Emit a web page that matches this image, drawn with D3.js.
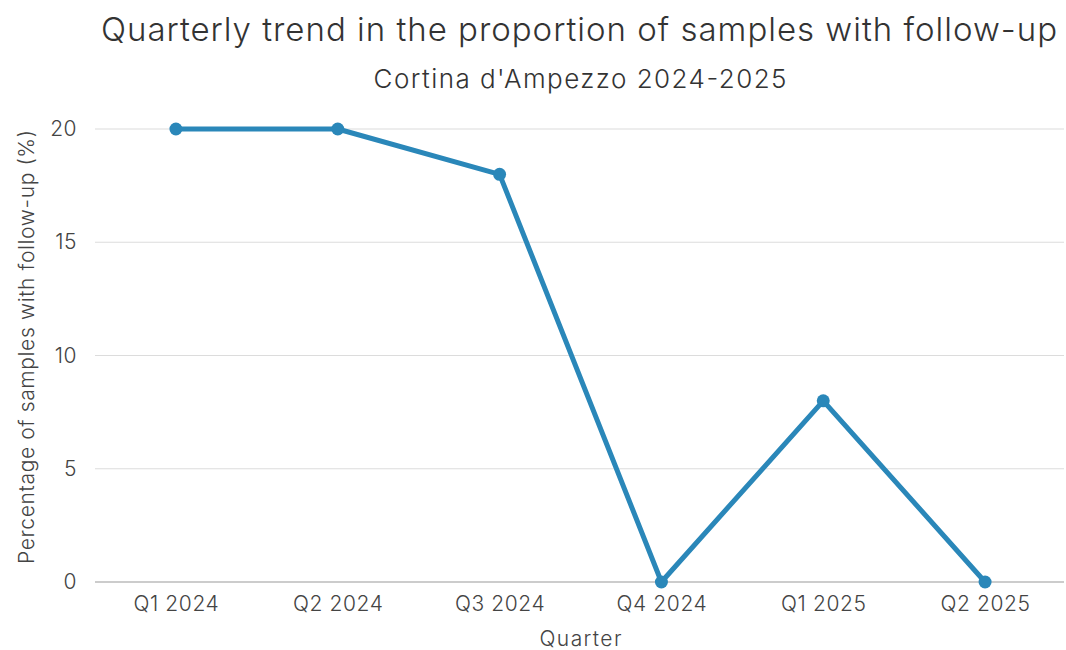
<!DOCTYPE html>
<html><head><meta charset="utf-8">
<script src="https://cdn.jsdelivr.net/npm/d3@7"></script>
<style>body{margin:0;background:#fff;} text{font-family:Inter,"Noto Sans",sans-serif;}</style>
</head><body>
<svg id="c" width="1066" height="650"></svg>
<script>
const categories = ["Q1 2024","Q2 2024","Q3 2024","Q4 2024","Q1 2025","Q2 2025"];
const values = [20, 20, 18, 0, 8, 0];
const yTicks = [0, 5, 10, 15, 20];

(function(){
const svg = d3.select("#c");
const mL = 95, mR = 1066, mT = 129, mB = 582;
const x = d3.scalePoint().domain(categories).range([mL, mR]).padding(0.5);
const y = d3.scaleLinear().domain([0, 20]).range([mB, mT]);
const font = "Inter,'Noto Sans',sans-serif";

svg.append("text").attr("x", 579).attr("y", 41).attr("text-anchor","middle")
  .attr("font-size", 33).attr("font-weight", 300).attr("fill","#333")
  .attr("textLength", 956).attr("lengthAdjust","spacing")
  .text("Quarterly trend in the proportion of samples with follow-up");
svg.append("text").attr("x", 580).attr("y", 88).attr("text-anchor","middle")
  .attr("font-size", 26).attr("font-weight", 300).attr("fill","#333")
  .attr("textLength", 413).attr("lengthAdjust","spacing")
  .text("Cortina d'Ampezzo 2024-2025");

svg.append("g").selectAll("line").data(yTicks.filter(d=>d>0)).join("line")
  .attr("x1", mL).attr("x2", mR-2).attr("y1", d=>y(d)).attr("y2", d=>y(d))
  .attr("stroke","#dcdcdc").attr("stroke-width",1.2);

const ya = svg.append("g").attr("transform",`translate(${mL},0)`)
  .call(d3.axisLeft(y).tickValues(yTicks).tickSize(0).tickPadding(18));
ya.select(".domain").remove();
ya.selectAll("text").attr("font-size",21).attr("fill","#444").attr("font-family",font).attr("font-weight",300).attr("letter-spacing",0.5);

const xa = svg.append("g").attr("transform",`translate(0,${mB})`)
  .call(d3.axisBottom(x).tickSize(0).tickPadding(14));
xa.select(".domain").attr("stroke","#999").attr("stroke-width",1.2).attr("d",`M${mL},0H${mR-2}`);
xa.selectAll("text").attr("font-size",21).attr("fill","#444").attr("font-family",font).attr("font-weight",300).attr("letter-spacing",0.6);

svg.append("text").attr("x", x.step()*3 + mL).attr("y", 646).attr("text-anchor","middle")
  .attr("font-size",21).attr("font-weight",300).attr("fill","#444")
  .attr("textLength", 82).attr("lengthAdjust","spacing").text("Quarter");
svg.append("text").attr("transform",`translate(34,347) rotate(-90)`).attr("text-anchor","middle")
  .attr("font-size",21).attr("font-weight",300).attr("fill","#444")
  .attr("textLength", 434).attr("lengthAdjust","spacing")
  .text("Percentage of samples with follow-up (%)");

const data = categories.map((c,i)=>({c, v: values[i]}));
svg.append("path").datum(data).attr("fill","none").attr("stroke","#2a87b9").attr("stroke-width",5)
  .attr("stroke-linejoin","round")
  .attr("d", d3.line().x(d=>x(d.c)).y(d=>y(d.v)));
svg.append("g").selectAll("circle").data(data).join("circle")
  .attr("cx", d=>x(d.c)).attr("cy", d=>y(d.v)).attr("r",6.5).attr("fill","#2a87b9");
})();
</script>
</body></html>
